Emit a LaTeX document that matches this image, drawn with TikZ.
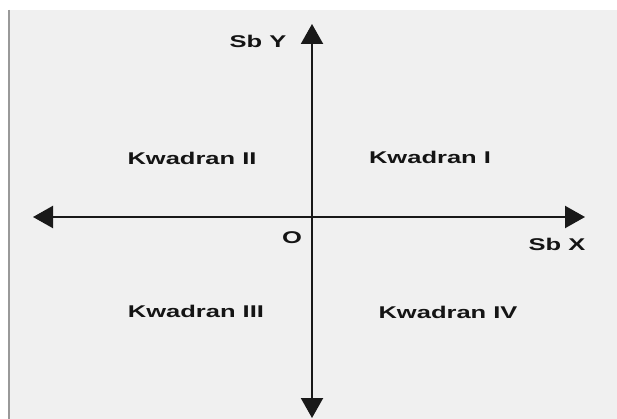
\documentclass[tikz,border=0pt]{standalone}
\usepackage{fontspec}
\setmainfont{Liberation Sans}
\newfontfamily\widefont[FakeStretch=1.5]{Liberation Sans Bold}
\usetikzlibrary{arrows.meta}
\begin{document}
\begin{tikzpicture}[x=1pt,y=-1pt,
  lbl/.style={font=\widefont\fontsize{17}{20}\selectfont, text=black!92, inner sep=0pt},
  axisline/.style={line width=2.2pt, draw=black!90, {Triangle[length=20pt,width=22pt]}-{Triangle[length=20pt,width=22pt]}}]
\useasboundingbox (0,0) rectangle (617,419);
\fill[white] (0,0) rectangle (617,419);
\fill[black!6] (9,10) rectangle (617,419);
\draw[black!40, line width=2pt] (9,10) -- (9,419);
\coordinate (ytop) at (312,24);
\coordinate (ybot) at (312,418);
\coordinate (xl) at (33,217);
\coordinate (xr) at (585,217);
\draw[axisline] (ybot) -- (ytop);
\draw[axisline] (xl) -- (xr);
\node[lbl] (sby) at (258,41) {Sb Y};
\node[lbl] (sbx) at (557,244) {Sb X};
\node[lbl] (o) at (292,238) {O};
\node[lbl] (q2) at (192,158) {Kwadran II};
\node[lbl] (q1) at (430,157) {Kwadran I};
\node[lbl] (q3) at (196,311) {Kwadran III};
\node[lbl] (q4) at (448,312) {Kwadran IV};
\end{tikzpicture}
\end{document}
